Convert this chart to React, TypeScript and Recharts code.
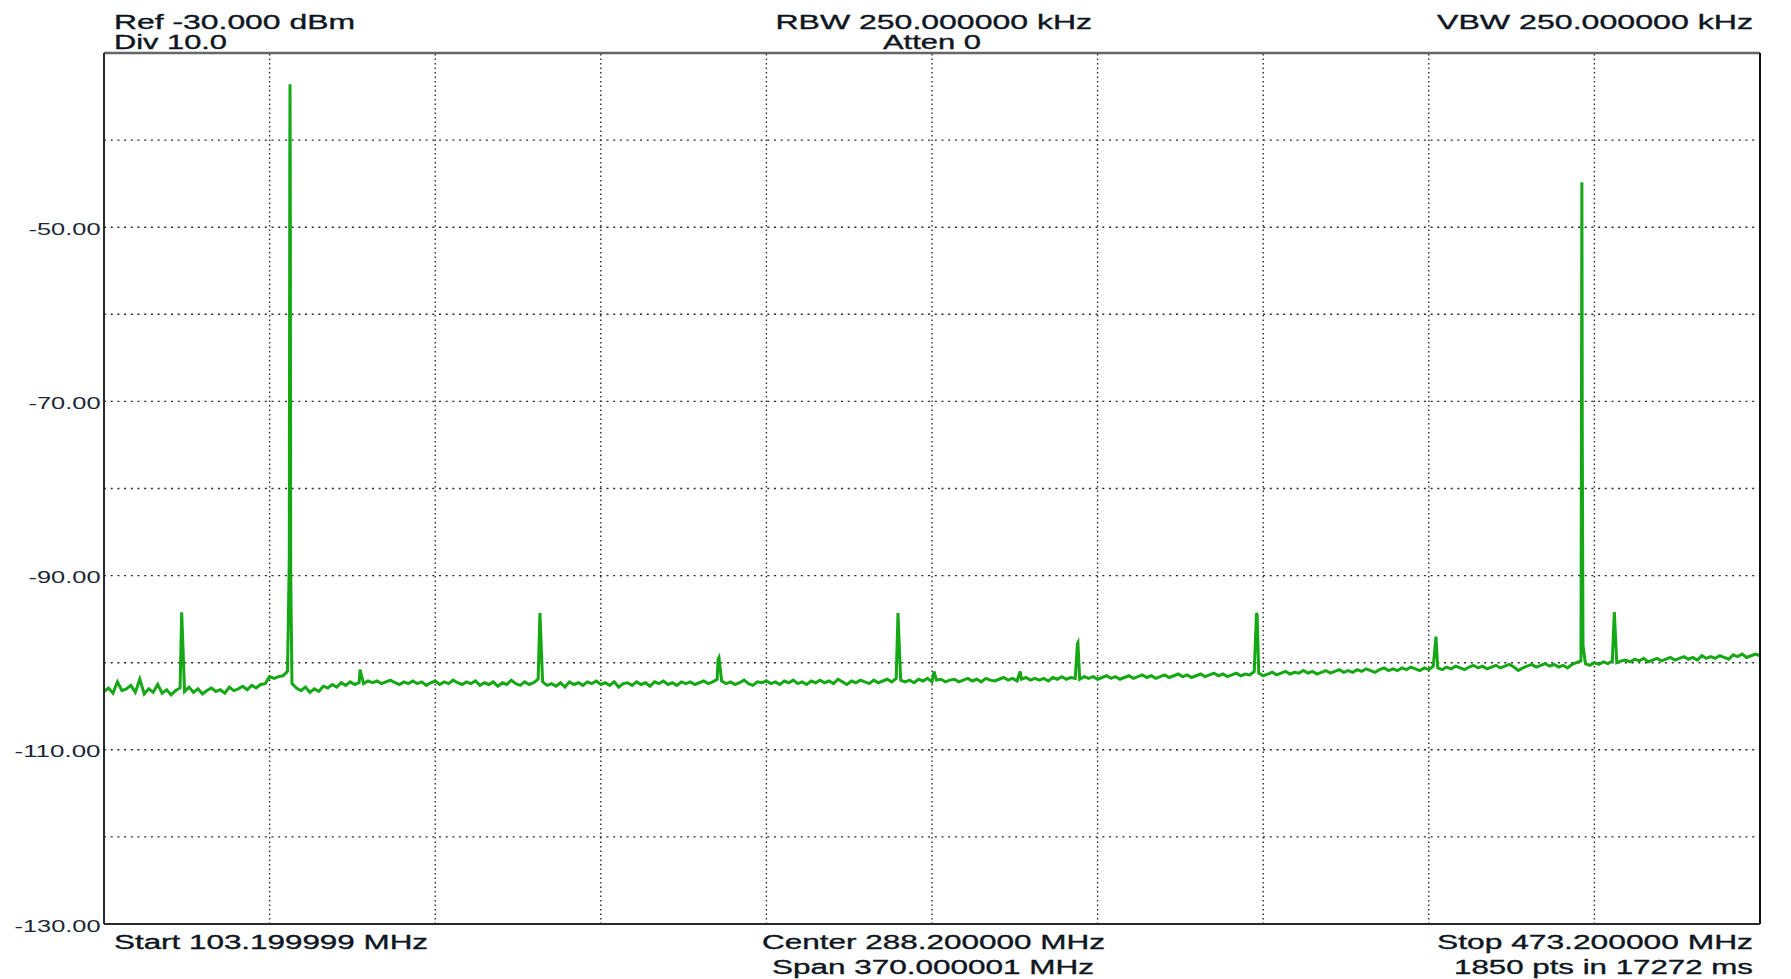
import {
  CartesianGrid,
  Line,
  LineChart,
  ReferenceLine,
  XAxis,
  YAxis,
} from "recharts";

// sweep settings (MHz)
const sweepStart = 103.2;
const sweepStop = 473.2;
const sweepStep = 1;

// noise floor, one reading per MHz from 103.2 MHz (dBm)
const floorLevels = [
  -103.3, -102.9, -103.5, -102.2, -103.2, -103.0, -102.6, -103.4, -101.9, -103.6, // 103.2
  -103.0, -103.4, -102.5, -103.5, -103.1, -103.7, -103.2, -102.9, -103.3, -102.8, // 113.2
  -103.4, -103.0, -103.6, -103.2, -102.9, -103.3, -103.1, -103.5, -102.8, -103.2, // 123.2
  -103.0, -102.7, -103.1, -102.6, -102.9, -102.5, -102.4, -101.6, -101.8, -101.6, // 133.2
  -101.5, -101.0, -102.4, -102.9, -103.2, -102.8, -103.4, -103.0, -103.3, -102.7, // 143.2
  -102.9, -102.5, -102.8, -102.3, -102.6, -102.2, -102.5, -102.3, -102.4, -102.1, // 153.2
  -102.3, -102.1, -102.4, -102.2, -102.0, -102.3, -102.5, -102.2, -102.4, -102.1, // 163.2
  -102.4, -102.2, -102.6, -102.3, -102.1, -102.5, -102.2, -102.4, -102.0, -102.3, // 173.2
  -102.5, -102.2, -102.4, -102.1, -102.6, -102.3, -102.5, -102.2, -102.7, -102.3, // 183.2
  -102.5, -102.0, -102.4, -102.6, -102.2, -102.5, -102.3, -101.9, -102.2, -102.6, // 193.2
  -102.4, -102.7, -102.3, -102.8, -102.2, -102.5, -102.3, -102.6, -102.2, -102.4, // 203.2
  -102.1, -102.5, -102.3, -102.6, -102.2, -102.8, -102.4, -102.3, -102.6, -102.2, // 213.2
  -102.5, -102.3, -102.7, -102.2, -102.4, -102.1, -102.5, -102.3, -102.6, -102.2, // 223.2
  -102.4, -102.2, -102.5, -102.3, -102.1, -102.4, -102.2, -101.9, -102.1, -102.4, // 233.2
  -102.2, -102.5, -102.3, -102.0, -102.4, -102.6, -102.2, -102.3, -102.1, -102.4, // 243.2
  -102.2, -102.5, -102.1, -102.3, -102.0, -102.4, -102.2, -102.5, -102.1, -102.3, // 253.2
  -102.0, -102.3, -102.1, -102.4, -101.9, -102.2, -102.5, -102.1, -102.3, -102.0, // 263.2
  -102.2, -102.4, -102.0, -102.3, -102.1, -101.9, -102.2, -101.8, -102.0, -102.2, // 273.2
  -102.0, -102.3, -101.9, -102.1, -101.8, -102.2, -102.0, -101.9, -102.2, -102.0, // 283.2
  -101.9, -102.2, -102.0, -101.8, -102.1, -101.9, -102.2, -101.8, -102.0, -102.1, // 293.2
  -101.9, -101.7, -102.0, -101.8, -102.1, -101.9, -101.7, -102.0, -101.8, -102.0, // 303.2
  -101.8, -102.1, -101.7, -101.9, -101.6, -101.9, -101.7, -101.8, -101.9, -101.6, // 313.2
  -101.8, -101.6, -101.9, -101.7, -101.5, -101.8, -101.6, -101.9, -101.7, -101.5, // 323.2
  -101.8, -101.6, -101.4, -101.7, -101.5, -101.8, -101.6, -101.4, -101.7, -101.5, // 333.2
  -101.3, -101.6, -101.4, -101.7, -101.5, -101.3, -101.6, -101.4, -101.2, -101.5, // 343.2
  -101.3, -101.6, -101.4, -101.2, -101.5, -101.3, -101.4, -101.0, -101.2, -101.5, // 353.2
  -101.3, -101.1, -101.4, -101.2, -101.0, -101.3, -101.1, -101.2, -100.9, -101.2, // 363.2
  -101.0, -101.3, -101.1, -100.9, -101.2, -101.0, -100.8, -101.1, -100.9, -101.1, // 373.2
  -100.8, -101.0, -100.7, -100.9, -101.1, -100.8, -100.6, -100.9, -100.7, -100.9, // 383.2
  -100.6, -100.8, -100.5, -100.7, -100.9, -100.6, -100.8, -100.4, -100.6, -100.8, // 393.2
  -100.5, -100.7, -100.4, -100.6, -100.8, -100.5, -100.3, -100.6, -100.4, -100.7, // 403.2
  -100.5, -100.3, -100.6, -100.4, -100.2, -100.5, -100.9, -100.6, -100.4, -100.2, // 413.2
  -100.5, -100.3, -100.1, -100.4, -100.2, -100.5, -100.3, -100.6, -100.2, -100.0, // 423.2
  -99.8, -100.1, -100.3, -100.0, -100.2, -99.9, -100.1, -99.8, -100.0, -99.8, // 433.2
  -99.7, -99.9, -99.6, -99.8, -99.5, -99.9, -99.7, -99.5, -99.8, -99.6, // 443.2
  -99.4, -99.7, -99.5, -99.3, -99.6, -99.4, -99.7, -99.2, -99.5, -99.3, // 453.2
  -99.5, -99.2, -99.4, -99.6, -99.1, -99.3, -99.0, -99.4, -99.2, -99.0, // 463.2
  -99.2, // 473.2
];

// spurs and carriers (MHz / dBm)
const spikeFreqs = [
  120.56,
  144.6, 144.7, 144.76, 144.82, 144.92,
  160.4, 200.6, 240.4, 240.6, 280.6, 288.65, 307.9,
  320.7, 320.8, 360.7, 360.85, 400.8,
  433.3, 433.4, 433.5, 433.65,
  440.65,
];
const spikeLevels = [
  -94.2,
  -88, -45, -33.6, -45, -90,
  -100.8, -94.3, -99.6, -99.4, -94.3, -101.0, -101.0,
  -97.8, -97.7, -94.3, -94.5, -97.0,
  -75, -44.85, -75, -98,
  -94.2,
];

const xTicks = [103.2, 140.2, 177.2, 214.2, 251.2, 288.2, 325.2, 362.2, 399.2, 436.2, 473.2];
const yTicks = [-130, -120, -110, -100, -90, -80, -70, -60, -50, -40, -30];
const yTickLabels = ["-130.00", "", "-110.00", "", "-90.00", "", "-70.00", "", "-50.00", "", ""];

const traceData = [
  ...floorLevels.map((dbm, i) => ({
    f: Math.round((sweepStart + i * sweepStep) * 100) / 100,
    dbm,
  })),
  ...spikeFreqs.map((f, i) => ({ f, dbm: spikeLevels[i] })),
].sort((a, b) => a.f - b.f);

const FONT = "'Liberation Sans', Arial, sans-serif";
const INK = "#0e1622";
const GRID = "#2a2a2a";

function YTick({ x, y, payload }: any) {
  const label = yTickLabels[yTicks.indexOf(payload.value)];
  if (!label) return <g />;
  return (
    <text
      x={x}
      y={y}
      dy={7.5}
      textAnchor="end"
      fontFamily={FONT}
      fontSize={17}
      fill="#1c2636"
      textLength={label.length === 6 ? 72 : 86}
      lengthAdjust="spacingAndGlyphs"
    >
      {label}
    </text>
  );
}

function Readout({ x, y, w, children }: { x: number; y: number; w: number; children: string }) {
  return (
    <text
      x={x}
      y={y}
      fontFamily={FONT}
      fontSize={20}
      fill={INK}
      stroke={INK}
      strokeWidth={0.35}
      textLength={w}
      lengthAdjust="spacingAndGlyphs"
    >
      {children}
    </text>
  );
}

export default function App() {
  return (
    <div style={{ position: "absolute", left: 0, top: 0, width: 1791, height: 979, background: "#fff" }}>
      <LineChart
        width={1791}
        height={979}
        data={traceData}
        margin={{ top: 53, right: 31, bottom: 55, left: 0 }}
      >
        <CartesianGrid
          horizontal
          vertical={false}
          stroke={GRID}
          strokeWidth={1.4}
          strokeDasharray="2 4.7"
        />
        <XAxis
          dataKey="f"
          type="number"
          domain={[sweepStart, sweepStop]}
          ticks={xTicks}
          interval={0}
          height={0}
          tick={false}
          tickLine={false}
          axisLine={false}
          allowDataOverflow
        />
        <YAxis
          type="number"
          domain={[-130, -30]}
          ticks={yTicks}
          interval={0}
          width={104}
          tick={<YTick />}
          tickLine={false}
          tickSize={0}
          tickMargin={3.5}
          axisLine={false}
          allowDataOverflow
        />
        {xTicks.slice(1, -1).map((f) => (
          <ReferenceLine
            key={f}
            x={f}
            stroke={GRID}
            strokeWidth={1.4}
            strokeDasharray="1.5 3"
          />
        ))}
        <Line
          dataKey="dbm"
          type="linear"
          stroke="#15a815"
          strokeWidth={3}
          dot={false}
          isAnimationActive={false}
        />
        <ReferenceLine y={-30} stroke="#666" strokeWidth={2.5} />
        <ReferenceLine y={-130} stroke="#2a2a2a" strokeWidth={2} />
        <ReferenceLine x={sweepStart} stroke="#2a2a2a" strokeWidth={2} />
        <ReferenceLine x={sweepStop} stroke="#111" strokeWidth={2} />
      </LineChart>
      <svg
        width={1791}
        height={979}
        style={{ position: "absolute", left: 0, top: 0, pointerEvents: "none" }}
      >
        <Readout x={114} y={29} w={241}>Ref -30.000 dBm</Readout>
        <Readout x={114} y={49} w={113}>Div 10.0</Readout>
        <Readout x={775.5} y={29} w={316.5}>RBW 250.000000 kHz</Readout>
        <Readout x={883} y={49} w={98}>Atten 0</Readout>
        <Readout x={1437} y={29} w={316}>VBW 250.000000 kHz</Readout>
        <Readout x={114} y={949} w={314}>Start 103.199999 MHz</Readout>
        <Readout x={762} y={949} w={343}>Center 288.200000 MHz</Readout>
        <Readout x={772} y={974} w={322}>Span 370.000001 MHz</Readout>
        <Readout x={1437} y={949} w={316}>Stop 473.200000 MHz</Readout>
        <Readout x={1454} y={974} w={299}>1850 pts in 17272 ms</Readout>
      </svg>
    </div>
  );
}
